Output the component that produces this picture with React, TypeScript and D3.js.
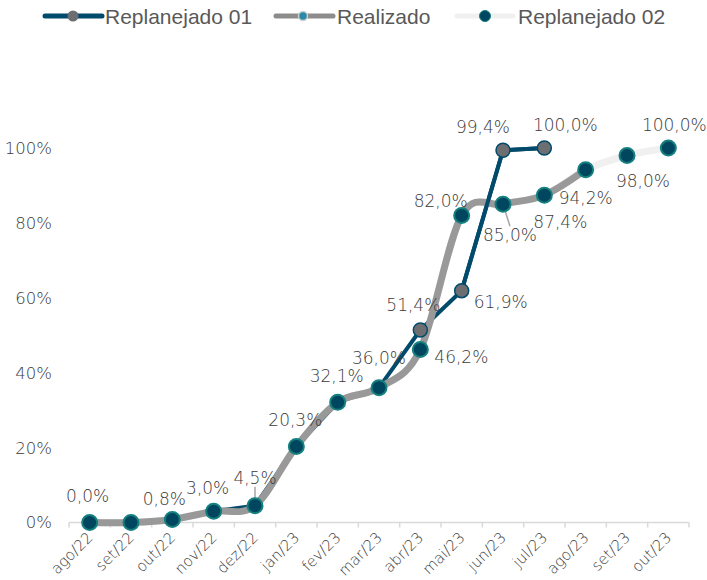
import React from "react";
import * as d3 from "d3";

const categories = ["ago/22","set/22","out/22","nov/22","dez/22","jan/23","fev/23","mar/23","abr/23","mai/23","jun/23","jul/23","ago/23","set/23","out/23"];
const replanejado01 = [0, 0, 0.8, 3.0, 4.5, 20.3, 32.1, 36.0, 51.4, 61.9, 99.4, 100.0];
const realizado = [0, 0, 0.8, 3.0, 4.5, 20.3, 32.1, 36.0, 46.2, 82.0, 85.0, 87.4, 94.2];
const replanejado02 = [0, 0, 0.8, 3.0, 4.5, 20.3, 32.1, 36.0, 46.2, 82.0, 85.0, 87.4, 94.2, 98.0, 100.0];
const yTicks = [0, 20, 40, 60, 80, 100];

// label placement: [series, index, dx, dy, leader]
type Lab = { s: "r1" | "r2"; i: number; dx: number; dy: number; leader?: boolean };
const labelLayout: Lab[] = [
  { s: "r2", i: 0, dx: -2, dy: -27 },
  { s: "r2", i: 2, dx: -8, dy: -21 },
  { s: "r2", i: 3, dx: -6, dy: -23 },
  { s: "r2", i: 4, dx: 0, dy: -28, leader: true },
  { s: "r2", i: 5, dx: -1, dy: -27 },
  { s: "r2", i: 6, dx: -1, dy: -26 },
  { s: "r2", i: 7, dx: 0, dy: -30 },
  { s: "r1", i: 8, dx: -7, dy: -25 },
  { s: "r1", i: 9, dx: 39, dy: 11 },
  { s: "r1", i: 10, dx: -20, dy: -23 },
  { s: "r1", i: 11, dx: 21, dy: -23 },
  { s: "r2", i: 8, dx: 41, dy: 7 },
  { s: "r2", i: 9, dx: -21, dy: -15 },
  { s: "r2", i: 10, dx: 7, dy: 31, leader: true },
  { s: "r2", i: 11, dx: 16, dy: 27 },
  { s: "r2", i: 12, dx: 0, dy: 28 },
  { s: "r2", i: 13, dx: 16, dy: 25 },
  { s: "r2", i: 14, dx: 6, dy: -23 },
];

const BLUE = "#004B6B";
const GRAY_LINE = "#999999";
const LIGHT_LINE = "#F0F0F0";
const TEXT = "#595959";
const LABEL_TEXT = "#3A3A3A";
const LABEL_FONT = "'DejaVu Sans', sans-serif";
const LABEL_WEIGHT = 200;

export default function App() {
  const W = 707, H = 580;
  const x0 = 69, x1 = 689;
  const yBase = 522.5, yTop = 148;
  const xBand = d3.scaleBand<string>().domain(categories).range([x0, x1]);
  const xc = (i: number) => (xBand(categories[i]) as number) + xBand.bandwidth() / 2;
  const y = d3.scaleLinear().domain([0, 100]).range([yBase, yTop]);

  const straight = d3.line<number>().x((_, i) => xc(i)).y((d) => y(d));
  const smooth = d3.line<number>().x((_, i) => xc(i)).y((d) => y(d)).curve(d3.curveCardinal.tension(0));

  const fmt = (v: number) => v.toFixed(1).replace(".", ",") + "%";
  const boundaries = d3.range(categories.length + 1).map((k) => x0 + k * xBand.step());

  const r1Top = replanejado01.map((v, i) => (i >= 9 ? v : null));
  const straightNull = d3.line<number | null>().defined((d) => d !== null).x((_, i) => xc(i)).y((d) => y(d as number));

  return (
    <svg width={W} height={H} style={{ position: "absolute", left: 0, top: 0, background: "#fff" }}>
      {/* legend */}
      <g>
        <line x1={45} x2={102} y1={16} y2={16} stroke={BLUE} strokeWidth={5} strokeLinecap="round" />
        <circle cx={73} cy={16} r={5.5} fill="#6D6E71" />
        <text x={105} y={24} fontFamily="'Liberation Sans', Arial, sans-serif" fontSize={21} fill={TEXT}>Replanejado 01</text>
        <line x1={276} x2={333} y1={16} y2={16} stroke="#8C8C8C" strokeWidth={5} strokeLinecap="round" />
        <circle cx={303} cy={16} r={4.5} fill="#2A8BA8" stroke="#D0D0D0" strokeWidth={1.5} />
        <text x={337} y={24} fontFamily="'Liberation Sans', Arial, sans-serif" fontSize={21} fill={TEXT}>Realizado</text>
        <line x1={457} x2={513} y1={16} y2={16} stroke={LIGHT_LINE} strokeWidth={5} strokeLinecap="round" />
        <circle cx={485} cy={16} r={5.5} fill="#00465E" stroke="#14807F" strokeWidth={1} />
        <text x={518} y={24} fontFamily="'Liberation Sans', Arial, sans-serif" fontSize={21} fill={TEXT}>Replanejado 02</text>
      </g>

      {/* y axis labels */}
      {yTicks.map((t) => (
        <text key={t} x={52} y={y(t)} dy="0.36em" textAnchor="end" fontFamily={LABEL_FONT} fontWeight={LABEL_WEIGHT} fontSize={16.5} fill={LABEL_TEXT}>{t}%</text>
      ))}

      {/* x axis */}
      <line x1={x0} x2={x1} y1={yBase} y2={yBase} stroke="#D9D9D9" strokeWidth={1.5} />
      {boundaries.map((b, k) => (
        <line key={k} x1={b} x2={b} y1={yBase} y2={yBase + 5} stroke="#D9D9D9" strokeWidth={1.5} />
      ))}
      {categories.map((c, i) => (
        <text key={c} transform={`translate(${xc(i) + 4},${yBase + 16}) rotate(-45)`} textAnchor="end" fontFamily={LABEL_FONT} fontWeight={LABEL_WEIGHT} fontSize={15} fill={LABEL_TEXT}>{c}</text>
      ))}

      {/* lines */}
      <path d={smooth(replanejado02) || ""} fill="none" stroke={LIGHT_LINE} strokeWidth={7} strokeLinecap="round" />
      <path d={straight(replanejado01) || ""} fill="none" stroke={BLUE} strokeWidth={4} strokeLinejoin="round" />
      <path d={smooth(realizado) || ""} fill="none" stroke={GRAY_LINE} strokeWidth={7} strokeLinecap="round" />
      <path d={straightNull(r1Top) || ""} fill="none" stroke={BLUE} strokeWidth={4} strokeLinejoin="round" />

      {/* leader lines */}
      {labelLayout.filter((l) => l.leader).map((l, k) => {
        const vals = l.s === "r1" ? replanejado01 : replanejado02;
        const px = xc(l.i), py = y(vals[l.i]);
        const ly = py + l.dy + (l.dy < 0 ? 9 : -9);
        return <line key={k} x1={px} y1={py} x2={px + l.dx} y2={ly} stroke="#A6A6A6" strokeWidth={1.5} />;
      })}

      {/* markers */}
      {replanejado01.map((v, i) => (
        <circle key={"m1" + i} cx={xc(i)} cy={y(v)} r={7} fill="#6D6E71" stroke={BLUE} strokeWidth={1.5} />
      ))}
      {realizado.map((v, i) => (
        <circle key={"mr" + i} cx={xc(i)} cy={y(v)} r={4.5} fill="#2A8BA8" stroke="#D0D0D0" strokeWidth={1.5} />
      ))}
      {replanejado02.map((v, i) => (
        <circle key={"m2" + i} cx={xc(i)} cy={y(v)} r={7.5} fill="#00465E" stroke="#14807F" strokeWidth={2} />
      ))}

      {/* data labels */}
      {labelLayout.map((l, k) => {
        const vals = l.s === "r1" ? replanejado01 : replanejado02;
        const px = xc(l.i), py = y(vals[l.i]);
        return (
          <text key={k} x={px + l.dx} y={py + l.dy} dy="0.36em" textAnchor="middle" fontFamily={LABEL_FONT} fontWeight={LABEL_WEIGHT} fontSize={17} fill={LABEL_TEXT}>{fmt(vals[l.i])}</text>
        );
      })}
    </svg>
  );
}
